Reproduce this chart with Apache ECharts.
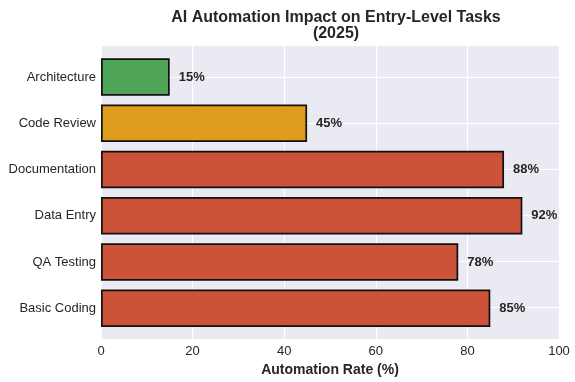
<!DOCTYPE html>
<html>
<head>
<meta charset="utf-8">
<script src="https://cdn.jsdelivr.net/npm/echarts@6/dist/echarts.min.js"></script>
<style>html,body{margin:0;padding:0;background:#fff;}#c{width:575px;height:382px;}</style>
</head>
<body>
<div id="c"></div>
<script>
const categories = ['Architecture', 'Code Review', 'Documentation', 'Data Entry', 'QA Testing', 'Basic Coding'];
const values = [15, 45, 88, 92, 78, 85];
const barColors = ['#4fa557', '#de9c1d', '#cc5239', '#cc5239', '#cc5239', '#cc5239'];
const xTicks = [0, 20, 40, 60, 80, 100];

const font = 'Liberation Sans, Arial, sans-serif';
const chart = echarts.init(document.getElementById('c'), null, {renderer: 'canvas'});
chart.setOption({
  animation: false,
  textStyle: {fontFamily: font},
  title: {
    text: 'AI Automation Impact on Entry-Level Tasks\n(2025)',
    left: 331, top: 5, textAlign: 'center',
    textStyle: {fontSize: 16, fontWeight: 'bold', color: '#262626', lineHeight: 16, fontFamily: font}
  },
  grid: [
    {left: 101, right: 16, top: 45, bottom: 43, show: true, backgroundColor: '#eaeaf2', borderWidth: 0},
    {left: 101, right: 16, top: 53.9, bottom: 50.6}
  ],
  xAxis: [
    {
      gridIndex: 0, type: 'value', min: xTicks[0], max: xTicks[xTicks.length - 1], interval: 20,
      name: 'Automation Rate (%)', nameLocation: 'middle', nameGap: 23,
      nameTextStyle: {fontSize: 14, fontWeight: 'bold', color: '#262626', fontFamily: font},
      axisLine: {show: false}, axisTick: {show: false},
      axisLabel: {fontSize: 13, color: '#262626', margin: 6, fontFamily: font},
      splitLine: {show: true, lineStyle: {color: '#ffffff', width: 1}}
    },
    {gridIndex: 1, type: 'value', min: 0, max: 100, show: false}
  ],
  yAxis: [
    {
      gridIndex: 0, type: 'value', min: -0.69, max: 5.69, inverse: true,
      minInterval: 1, maxInterval: 1,
      axisLine: {show: false}, axisTick: {show: false}, axisLabel: {show: false},
      splitLine: {show: true, lineStyle: {color: '#ffffff', width: 1}}
    },
    {
      gridIndex: 1, type: 'category', data: categories, inverse: true,
      axisLine: {show: false}, axisTick: {show: false},
      axisLabel: {fontSize: 13, color: '#262626', margin: 5, fontFamily: font},
      splitLine: {show: false}
    }
  ],
  series: [{
    type: 'bar', xAxisIndex: 1, yAxisIndex: 1,
    barWidth: '81%',
    data: values.map((v, i) => ({value: v, itemStyle: {color: barColors[i]}})),
    itemStyle: {borderColor: '#111111', borderWidth: 1.7},
    label: {
      show: true, position: 'right', distance: 9,
      formatter: p => p.value + '%',
      fontSize: 13, fontWeight: 'bold', color: '#262626', fontFamily: font
    }
  }]
});
</script>
</body>
</html>
